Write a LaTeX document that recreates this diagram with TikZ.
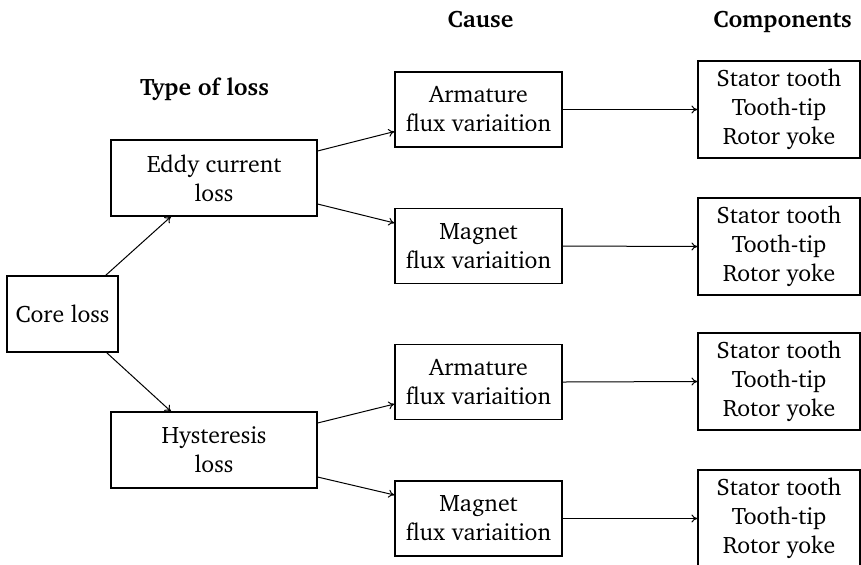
\documentclass[tikz,border=0pt]{standalone}
\usepackage[T1]{fontenc}
\usepackage{charter}
\usetikzlibrary{arrows.meta}
\begin{document}
\begin{tikzpicture}[x=0.5pt,y=-0.5pt,
  box/.style={draw, line width=0.55pt, rectangle, inner sep=0pt, align=center,
    font=\fontsize{11.9}{14.5}\selectfont},
  corebox/.style={box, minimum width=55.5pt, minimum height=38pt},
  typebox/.style={box, minimum width=103pt, minimum height=38pt},
  causebox/.style={box, minimum width=83.5pt, minimum height=37.5pt},
  compbox/.style={box, minimum width=81pt, minimum height=48.5pt},
  heading/.style={anchor=base, inner sep=0pt, font=\fontsize{11.9}{14.5}\selectfont\bfseries},
  arr/.style={-{To[length=3pt,width=4pt]}, line width=0.5pt}]
\useasboundingbox (0,0) rectangle (861,564);

% column headings
\node[heading] (hType)  at (204.5,95) {Type of loss};
\node[heading] (hCause) at (480.5,27) {Cause};
\node[heading] (hComp)  at (782.5,27) {Components};

% boxes
\node[corebox] (core) at (62.5,314) {Core loss};
\node[typebox] (eddy) at (214,178) {Eddy current\\loss};
\node[typebox] (hyst) at (214,450) {Hysteresis\\loss};

\node[causebox] (arm1) at (478.5,109.5) {Armature\\flux variaition};
\node[causebox] (mag1) at (478.5,246)   {Magnet\\flux variaition};
\node[causebox] (arm2) at (478.5,382)   {Armature\\flux variaition};
\node[causebox] (mag2) at (478.5,518.5) {Magnet\\flux variaition};

\node[compbox] (c1) at (779,109.5) {Stator tooth\\Tooth-tip\\Rotor yoke};
\node[compbox] (c2) at (779,246.5) {Stator tooth\\Tooth-tip\\Rotor yoke};
\node[compbox] (c3) at (779,381.5) {Stator tooth\\Tooth-tip\\Rotor yoke};
\node[compbox] (c4) at (779,518.5) {Stator tooth\\Tooth-tip\\Rotor yoke};

% connectors
\draw[arr] ([xshift=-6.5pt]core.north east) -- ([xshift=-21.5pt]eddy.south);
\draw[arr] ([xshift=-6pt]core.south east) -- ([xshift=-21.5pt]hyst.north);

\draw[arr] ([yshift=13.5pt]eddy.east) -- ([yshift=-11pt]arm1.west);
\draw[arr] ([yshift=-13pt]eddy.east) -- ([yshift=11.5pt]mag1.west);
\draw[arr] ([yshift=13.5pt]hyst.east) -- ([yshift=-11pt]arm2.west);
\draw[arr] ([yshift=-13.5pt]hyst.east) -- ([yshift=11.75pt]mag2.west);

\draw[arr] (arm1.east) -- (c1.west);
\draw[arr] (mag1.east) -- (c2.west);
\draw[arr] (arm2.east) -- (c3.west);
\draw[arr] (mag2.east) -- (c4.west);
\end{tikzpicture}
\end{document}
